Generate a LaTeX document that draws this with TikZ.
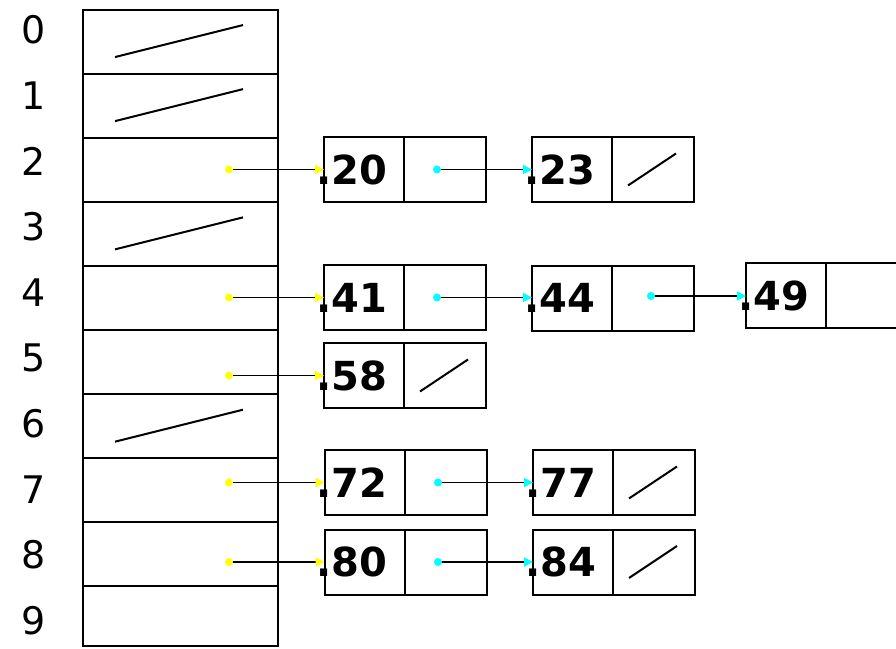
\documentclass[tikz,border=0pt]{standalone}
\usepackage{fontspec}
\setmainfont{DejaVu Sans}
\usepackage{tikz}
\usetikzlibrary{
    arrows.meta,
    positioning
}
\definecolor{headYellow}{RGB}{255,255,0}
\definecolor{nextCyan}{RGB}{0,255,255}
\tikzset{
  slot/.style  = {draw, line width=2pt, minimum width=195pt,
                  minimum height=64.1pt, outer sep=0pt},
  idx/.style   = {font=\fontsize{38}{42}\selectfont, inner sep=0pt},
  key/.style   = {draw, line width=2pt, minimum width=80pt,
                  minimum height=65pt, text width=80pt, inner xsep=0pt,
                  inner ysep=0pt, align=left, outer sep=0pt,
                  font=\fontsize{40}{44}\selectfont\bfseries},
  ptr/.style   = {draw, line width=2pt, minimum width=82pt,
                  minimum height=65pt, outer sep=0pt},
  nil/.style   = {line width=2pt},
  yarr/.style  = {-{Triangle[length=9pt, width=9pt, color=headYellow]},
                  line width=1.8pt},
  carr/.style  = {-{Triangle[length=9pt, width=9pt, color=nextCyan]},
                  line width=1.8pt}
}

\begin{document}
\begin{tikzpicture}[x=1pt, y=-1pt]
  \useasboundingbox (0,0) rectangle (896,648);

  % Table slots
  \foreach \i in {0,...,8}
    \node[slot] (r\i) at (180.5, 41.55+64.1*\i) {};
  \node[slot, minimum height=60pt] (r9) at (180.5, 616) {};
  \foreach \i in {0,...,9}
    \node[idx] (n\i) at (34, 30+65.6*\i) {\i};

  % Empty slots
  \foreach \i in {0,1,3,6}
    \draw[nil] ([shift={(-65.5,15.5)}]r\i.center) -- ++(128,-32);

  % List cells
  \node[key] (k20) at (364,169.5) {\hspace*{-8pt}.20};
  \node[ptr, right=0pt of k20] (p20) {};
  \node[key] (k23) at (572,169.5) {\hspace*{-8pt}.23};
  \node[ptr, right=0pt of k23] (p23) {};
  \node[key] (k41) at (364,297.5) {\hspace*{-8pt}.41};
  \node[ptr, right=0pt of k41] (p41) {};
  \node[key] (k44) at (572,298) {\hspace*{-8pt}.44};
  \node[ptr, right=0pt of k44] (p44) {};
  \node[key] (k49) at (786,295.5) {\hspace*{-8pt}.49};
  \node[ptr, right=0pt of k49] (p49) {};
  \node[key] (k58) at (364,375.5) {\hspace*{-8pt}.58};
  \node[ptr, right=0pt of k58] (p58) {};
  \node[key] (k72) at (364.5,482.5) {\hspace*{-8pt}.72};
  \node[ptr, right=0pt of k72] (p72) {};
  \node[key] (k77) at (573,482.5) {\hspace*{-8pt}.77};
  \node[ptr, right=0pt of k77] (p77) {};
  \node[key] (k80) at (364.5,562) {\hspace*{-8pt}.80};
  \node[ptr, right=0pt of k80] (p80) {};
  \node[key] (k84) at (573,562) {\hspace*{-8pt}.84};
  \node[ptr, right=0pt of k84] (p84) {};

  % Null pointers
  \foreach \p in {p23,p58,p77,p84}
    \draw[nil] ([shift={(-25,16)}]\p.center) -- ++(48,-32);

  % Heads
  \coordinate (y2) at (229,169.5);
  \coordinate (y4) at (229,297.5);
  \coordinate (y5) at (229,375.5);
  \coordinate (y7) at (229,482.5);
  \coordinate (y8) at (229,562);
  \foreach \a/\b in {y2/k20, y4/k41, y5/k58, y7/k72, y8/k80} {
    \draw[yarr] (\a) -- (\a -| \b.west);
    \fill[headYellow] (\a) circle (4);
  }

  % Next pointers
  \coordinate (c20) at (437,169.5);
  \coordinate (c41) at (437,297.5);
  \coordinate (c44) at (651,296);
  \coordinate (c72) at (438,482.5);
  \coordinate (c80) at (438,562);
  \foreach \a/\b in {c20/k23, c41/k44, c44/k49, c72/k77, c80/k84} {
    \draw[carr] (\a) -- (\a -| \b.west);
    \fill[nextCyan] (\a) circle (4);
  }
\end{tikzpicture}
\end{document}
